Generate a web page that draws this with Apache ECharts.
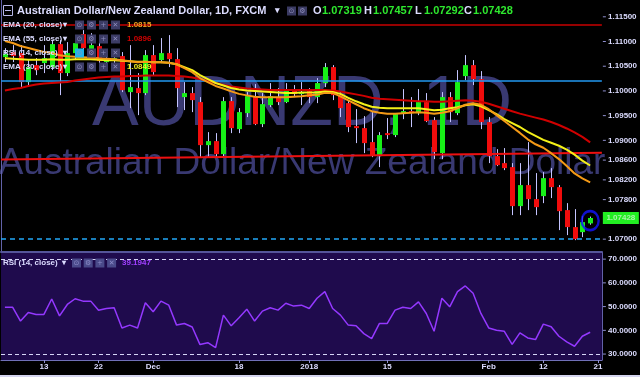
<!DOCTYPE html>
<html><head><meta charset="utf-8">
<script src="https://cdn.jsdelivr.net/npm/echarts@6/dist/echarts.min.js"></script>
<style>html,body{margin:0;padding:0;background:#000;overflow:hidden}#c{width:640px;height:377px}</style>
</head><body><div id="c"></div>
<script>
const dates = ['2017-11-06','2017-11-07','2017-11-08','2017-11-09','2017-11-10','2017-11-13','2017-11-14','2017-11-15','2017-11-16','2017-11-17','2017-11-20','2017-11-21','2017-11-22','2017-11-23','2017-11-24','2017-11-27','2017-11-28','2017-11-29','2017-11-30','2017-12-01','2017-12-04','2017-12-05','2017-12-06','2017-12-07','2017-12-08','2017-12-11','2017-12-12','2017-12-13','2017-12-14','2017-12-15','2017-12-18','2017-12-19','2017-12-20','2017-12-21','2017-12-22','2017-12-26','2017-12-27','2017-12-28','2017-12-29','2018-01-01','2018-01-02','2018-01-03','2018-01-04','2018-01-05','2018-01-08','2018-01-09','2018-01-10','2018-01-11','2018-01-12','2018-01-15','2018-01-16','2018-01-17','2018-01-18','2018-01-19','2018-01-22','2018-01-23','2018-01-24','2018-01-25','2018-01-26','2018-01-29','2018-01-30','2018-01-31','2018-02-01','2018-02-02','2018-02-05','2018-02-06','2018-02-07','2018-02-08','2018-02-09','2018-02-12','2018-02-13','2018-02-14','2018-02-15','2018-02-16','2018-02-19','2018-02-20','2018-02-21'];

const opens = [1.10684,1.10786,1.10765,1.10178,1.10522,1.10563,1.10482,1.10947,1.10361,1.10765,1.11150,1.10846,1.10907,1.10583,1.10624,1.10705,1.09976,1.10057,1.09956,1.10725,1.10624,1.10765,1.10644,1.09875,1.09956,1.09774,1.08903,1.08984,1.08721,1.09794,1.09227,1.09551,1.09895,1.09328,1.09713,1.09875,1.09774,1.10037,1.09935,1.09996,1.09875,1.10158,1.10482,1.09915,1.09753,1.09288,1.09247,1.08964,1.08681,1.09146,1.09106,1.09551,1.09591,1.09551,1.09774,1.09409,1.08741,1.09875,1.09551,1.10300,1.10522,1.10239,1.09369,1.08681,1.08539,1.08458,1.07669,1.08094,1.07810,1.07871,1.08235,1.08053,1.07588,1.07244,1.07142,1.07319];
const highs = [1.10866,1.10927,1.10927,1.10624,1.10664,1.10927,1.11028,1.11028,1.10988,1.11069,1.11231,1.11170,1.11069,1.10826,1.10826,1.10786,1.10927,1.10361,1.10826,1.10927,1.11069,1.11130,1.10866,1.10178,1.10077,1.09875,1.09166,1.09146,1.09875,1.09875,1.09652,1.09976,1.10138,1.09956,1.10158,1.10057,1.10158,1.10118,1.10178,1.10057,1.10259,1.10563,1.10522,1.09976,1.09814,1.09632,1.09490,1.09571,1.09166,1.09450,1.09551,1.10037,1.09875,1.10037,1.09956,1.09470,1.09976,1.09976,1.10421,1.10725,1.10624,1.10401,1.09470,1.08822,1.08843,1.08539,1.08539,1.08964,1.08337,1.08357,1.08438,1.08094,1.07729,1.07608,1.07466,1.07457];
const lows = [1.10583,1.10583,1.10057,1.10118,1.10320,1.10361,1.10421,1.09915,1.10300,1.10624,1.10725,1.10684,1.10502,1.10502,1.10543,1.09976,1.09652,1.09510,1.09915,1.10320,1.10563,1.10482,1.09672,1.09612,1.09571,1.08660,1.08660,1.08660,1.08660,1.09146,1.09146,1.09470,1.09308,1.09268,1.09672,1.09713,1.09753,1.09875,1.09713,1.09753,1.09753,1.10077,1.09814,1.09470,1.09166,1.08944,1.08741,1.08660,1.08458,1.09025,1.09065,1.09429,1.09268,1.09510,1.09369,1.08620,1.08620,1.09369,1.09510,1.10219,1.10118,1.09227,1.08539,1.08478,1.08397,1.07486,1.07486,1.07588,1.07486,1.07729,1.07831,1.07183,1.07082,1.06980,1.07041,1.07292];
const closes = [1.10745,1.10705,1.10178,1.10482,1.10421,1.10664,1.10947,1.10361,1.10765,1.10968,1.10866,1.10927,1.10603,1.10644,1.10664,1.10016,1.10077,1.09956,1.10725,1.10381,1.10765,1.10644,1.10057,1.09956,1.09814,1.08903,1.08984,1.08721,1.09794,1.09247,1.09571,1.09895,1.09328,1.09733,1.09895,1.09774,1.10037,1.09935,1.09976,1.09875,1.10158,1.10482,1.09915,1.09652,1.09268,1.09247,1.08944,1.08701,1.09106,1.09106,1.09531,1.09591,1.09551,1.09774,1.09389,1.08762,1.09875,1.09571,1.10178,1.10522,1.10239,1.09369,1.08681,1.08498,1.08438,1.07669,1.08094,1.07810,1.07648,1.08235,1.08053,1.07567,1.07244,1.07001,1.07345,1.07428];

const ema20 = [1.1101,1.1097,1.1091,1.1087,1.1083,1.1079,1.1077,1.1072,1.1070,1.1069,1.1068,1.1067,1.1066,1.1065,1.1064,1.1062,1.1060,1.1058,1.1059,1.1058,1.1058,1.1057,1.1054,1.1046,1.1038,1.1026,1.1018,1.1010,1.1005,1.0999,1.0994,1.0991,1.0988,1.0987,1.0987,1.0987,1.0987,1.0988,1.0989,1.0991,1.0992,1.0996,1.0996,1.0989,1.0981,1.0973,1.0965,1.0959,1.0956,1.0954,1.0954,1.0955,1.0956,1.0957,1.0956,1.0954,1.0956,1.0959,1.0965,1.0972,1.0975,1.0972,1.0963,1.0951,1.0939,1.0927,1.0915,1.0902,1.0892,1.0885,1.0874,1.0862,1.0848,1.0833,1.0823,1.0815];
const ema30 = [1.1066,1.1065,1.1064,1.1063,1.1063,1.1063,1.1064,1.1063,1.1063,1.1064,1.1064,1.1064,1.1063,1.1062,1.1062,1.1061,1.1060,1.1059,1.1059,1.1058,1.1058,1.1057,1.1054,1.1048,1.1042,1.1032,1.1024,1.1016,1.1011,1.1006,1.1003,1.1001,1.1000,1.0999,1.0998,1.0997,1.0996,1.0996,1.0997,1.0997,1.0997,1.0999,1.0998,1.0994,1.0986,1.0979,1.0973,1.0968,1.0966,1.0965,1.0965,1.0965,1.0965,1.0965,1.0963,1.0961,1.0962,1.0965,1.0967,1.0971,1.0973,1.0969,1.0961,1.0953,1.0943,1.0935,1.0927,1.0917,1.0909,1.0901,1.0895,1.0889,1.0881,1.0871,1.0859,1.0849];
const ema55 = [1.1001,1.1004,1.1006,1.1010,1.1013,1.1015,1.1016,1.1017,1.1018,1.1021,1.1023,1.1025,1.1027,1.1028,1.1029,1.1029,1.1030,1.1030,1.1031,1.1031,1.1031,1.1031,1.1030,1.1029,1.1027,1.1024,1.1020,1.1016,1.1012,1.1009,1.1007,1.1005,1.1004,1.1003,1.1002,1.1002,1.1002,1.1002,1.1002,1.1002,1.1002,1.1002,1.1001,1.0999,1.0996,1.0993,1.0990,1.0986,1.0984,1.0983,1.0982,1.0981,1.0980,1.0979,1.0979,1.0978,1.0978,1.0979,1.0980,1.0981,1.0980,1.0978,1.0974,1.0969,1.0964,1.0959,1.0954,1.0950,1.0946,1.0942,1.0937,1.0931,1.0924,1.0916,1.0907,1.0896];
const rsi = [49.7,49.7,43.9,47.5,46.7,46.7,53.2,46.1,50.9,53.3,52.3,52.3,48.5,49.2,49.5,41.0,42.2,41.0,51.6,47.8,52.3,50.6,42.2,42.9,41.4,34.0,34.8,32.7,46.4,41.9,45.3,48.9,43.9,48.1,49.5,48.5,51.4,50.2,50.6,49.2,53.5,56.3,49.2,46.4,42.2,41.9,38.6,36.5,42.9,42.9,48.5,49.7,49.2,52.0,47.1,39.6,53.5,49.9,56.3,58.7,55.6,47.1,41.0,40.0,39.6,34.1,38.9,36.8,36.1,42.6,41.5,37.5,35.1,33.3,37.5,39.1947];

const priceTicks = [1.115,1.110,1.105,1.100,1.095,1.090,1.086,1.082,1.078,1.070];
const rsiTicks = [30,40,50,60,70];
const dateTicks = ['2017-11-13','2017-11-22','2017-12-01','2017-12-18','2018-01-01','2018-01-15','2018-02-01','2018-02-12','2018-02-21'];
const dateTickText = ['13','22','Dec','18','2018','15','Feb','12','21'];
const levelTop = 1.1133, levelBlue = 1.1020, levelDash = 1.0700;
const trendLine = [1.0861, 1.0875];

const F = '"Liberation Sans", Arial, sans-serif';
const TXT = '#dcdcff';
const GREEN = '#17f017', RED = '#f00c0c', WICK = '#c4c4ff';

const candleData = closes.map((c, i) => [i, opens[i], c, lows[i], highs[i]]);
const last = closes.length - 1;

function txt(x, y, s, size, color, extra) {
  return Object.assign({type: 'text', x: x, y: y, z: 50, silent: true,
    style: {text: s, font: 'bold ' + size + 'px ' + F, fill: color, align: 'left', verticalAlign: 'middle'}}, extra || {});
}
function icon(x, y, glyph, bg, fg) {
  return [
    {type: 'rect', z: 50, silent: true, shape: {x: x, y: y - 4.5, width: 9, height: 9}, style: {fill: bg}},
    {type: 'text', z: 51, silent: true, x: x + 4.5, y: y, style: {text: glyph, font: '7px "DejaVu Sans", sans-serif', fill: fg, align: 'center', verticalAlign: 'middle'}}
  ];
}
const glyphs = ['\u2299', '\u2699', '+', '\u2715'];
const els = [];
els.push({type: 'text', x: 302, y: 106, z: -1, silent: true, style: {text: 'AUDNZD, 1D', font: '70px ' + F, fill: '#393972', align: 'center', verticalAlign: 'middle'}});
els.push({type: 'text', x: 302, y: 163.5, z: -1, silent: true, style: {text: 'Australian Dollar/New Zealand Dollar', font: '37px ' + F, fill: '#393972', align: 'center', verticalAlign: 'middle'}});
els.push({type: 'rect', z: 50, silent: true, shape: {x: 3.5, y: 5.5, width: 9, height: 10}, style: {fill: 'none', stroke: '#b8b8e8', lineWidth: 1}});
els.push({type: 'line', z: 50, silent: true, shape: {x1: 5, y1: 10.5, x2: 11, y2: 10.5}, style: {stroke: '#b8b8e8', lineWidth: 1}});
els.push(txt(17, 11, 'Australian Dollar/New Zealand Dollar, 1D, FXCM', 11, TXT));
els.push(txt(275, 11, '\u25BE', 9, TXT));
els.push(...icon(287, 11, glyphs[0], '#3a3a62', '#8a8ab8'));
els.push(...icon(298, 11, glyphs[1], '#3a3a62', '#8a8ab8'));
const ohlc = [['O', 313, opens[last]], ['H', 364, highs[last]], ['L', 415, lows[last]], ['C', 464, closes[last]]];
ohlc.forEach(([k, x, v]) => { els.push(txt(x, 11, k, 11, TXT)); els.push(txt(x + 9, 11, v.toFixed(5), 11, '#2ee82e')); });
const rows = [
  ['EMA (20, close)', 25, ema20[last].toFixed(4), '#f5a020'],
  ['EMA (55, close)', 39, ema55[last].toFixed(4), '#d00000'],
  ['RSI (14, close)', 53, null, null],
  ['EMA (30, close)', 67, ema30[last].toFixed(4), '#f0f020']
];
rows.forEach(([name, y, val, col], r) => {
  els.push(txt(3, y, name, 8, TXT));
  els.push(txt(63, y, '\u25BE', 8, TXT));
  glyphs.forEach((g, k) => els.push(...icon(75 + 12 * k, y, g, (r === 2 && k === 0) ? '#1eb4ec' : '#3c3c66', '#8c8cbc')));
  if (val) els.push(txt(127, y, val, 8, col));
});
els.push(txt(3, 263, 'RSI (14, close)', 8, TXT));
els.push(txt(62, 263, '\u25BE', 8, TXT));
glyphs.forEach((g, k) => els.push(...icon(72 + 11.7 * k, 263, g, '#4a4a8a', '#8c8cc8')));
els.push(txt(122, 263, rsi[last].toFixed(4), 8, '#a040ff'));
els.push({type: 'rect', z: 50, silent: true, shape: {x: 0, y: 375, width: 640, height: 2}, style: {fill: '#d4d4ee'}});

const chart = echarts.init(document.getElementById('c'), null, {renderer: 'canvas'});
chart.setOption({
  animation: false,
  backgroundColor: '#000',
  grid: [
    {left: 1, right: 36, top: 0, height: 252},
    {left: 1, right: 36, top: 252, height: 108, show: true, backgroundColor: '#1f0b4d', borderWidth: 0}
  ],
  xAxis: [
    {gridIndex: 0, type: 'category', data: dates, boundaryGap: true,
      axisLine: {show: true, lineStyle: {color: '#55559a', width: 2}}, axisTick: {show: false}, axisLabel: {show: false}, splitLine: {show: false}},
    {gridIndex: 1, type: 'category', data: dates, boundaryGap: true,
      axisLine: {show: true, lineStyle: {color: '#7070b8', width: 1}},
      axisTick: {show: true, alignWithLabel: true, length: 3, interval: (i, v) => dateTicks.includes(v), lineStyle: {color: '#9090d0'}},
      axisLabel: {interval: (i, v) => dateTicks.includes(v), formatter: v => dateTickText[dateTicks.indexOf(v)], color: TXT, fontSize: 8, fontWeight: 'bold', fontFamily: F, margin: 3},
      splitLine: {show: false}},
    {gridIndex: 0, type: 'value', min: 0, max: 1, show: false}
  ],
  yAxis: [
    {gridIndex: 0, type: 'value', position: 'right', min: 1.0674, max: 1.1184, interval: 0.0002,
      axisLine: {show: true, lineStyle: {color: '#6262a8', width: 1}}, axisTick: {show: false}, splitLine: {show: false},
      axisLabel: {margin: 1, color: TXT, fontSize: 8, fontWeight: 'bold', fontFamily: F,
        formatter: v => priceTicks.some(t => Math.abs(t - v) < 1e-6) ? '{tk|} ' + v.toFixed(5) : '',
        rich: {tk: {width: 3, height: 1, backgroundColor: '#9090d0'}}}},
    {gridIndex: 1, type: 'value', position: 'right', min: 27.5, max: 73, interval: 0.5,
      axisLine: {show: true, lineStyle: {color: '#6262a8', width: 1}}, axisTick: {show: false}, splitLine: {show: false},
      axisLabel: {margin: 1, color: TXT, fontSize: 8, fontWeight: 'bold', fontFamily: F,
        formatter: v => rsiTicks.some(t => Math.abs(t - v) < 1e-6) ? '{tk|} ' + v.toFixed(4) : '',
        rich: {tk: {width: 3, height: 1, backgroundColor: '#9090d0'}}}}
  ],
  graphic: {elements: els},
  series: [
    {type: 'custom', name: 'AUDNZD', xAxisIndex: 0, yAxisIndex: 0, z: 3,
      dimensions: ['i', 'open', 'close', 'low', 'high'], encode: {x: 0, y: [1, 2, 3, 4]},
      data: candleData,
      renderItem: function (params, api) {
        const i = api.value(0), o = api.value(1), c = api.value(2), l = api.value(3), h = api.value(4);
        const pO = api.coord([i, o]), pC = api.coord([i, c]), pL = api.coord([i, l]), pH = api.coord([i, h]);
        const cx = Math.round(pO[0]);
        const top = Math.min(pO[1], pC[1]), bot = Math.max(pO[1], pC[1]);
        return {type: 'group', children: [
          {type: 'line', shape: {x1: cx + 0.5, y1: pH[1], x2: cx + 0.5, y2: pL[1]}, style: {stroke: WICK, lineWidth: 1}},
          {type: 'rect', shape: {x: cx - 2, y: top, width: 5, height: Math.max(bot - top, 1.5)}, style: {fill: c >= o ? GREEN : RED}}
        ]};
      }},
    {type: 'lines', coordinateSystem: 'cartesian2d', xAxisIndex: 2, yAxisIndex: 0, z: 4, silent: true,
      data: [
        {coords: [[0, levelTop], [1, levelTop]], lineStyle: {color: '#c80000', width: 1.5, opacity: 1}},
        {coords: [[0, levelBlue], [1, levelBlue]], lineStyle: {color: '#2298f0', width: 1.5, opacity: 1}},
        {coords: [[0, trendLine[0]], [1, trendLine[1]]], lineStyle: {color: '#ee1010', width: 2, opacity: 1}},
        {coords: [[0, levelDash], [1, levelDash]], lineStyle: {color: '#22a8f8', width: 1.5, type: [5, 4], opacity: 1}}
      ]},
    {type: 'line', name: 'EMA55', xAxisIndex: 0, yAxisIndex: 0, data: ema55, symbol: 'none', z: 5, lineStyle: {color: '#d00000', width: 2}},
    {type: 'line', name: 'EMA30', xAxisIndex: 0, yAxisIndex: 0, data: ema30, symbol: 'none', z: 5, lineStyle: {color: '#f4f018', width: 2}},
    {type: 'line', name: 'EMA20', xAxisIndex: 0, yAxisIndex: 0, data: ema20, symbol: 'none', z: 5, lineStyle: {color: '#f59a16', width: 2}},
    {type: 'scatter', xAxisIndex: 0, yAxisIndex: 0, z: 6, silent: true, clip: false,
      data: [[dates[last], (highs[last] + lows[last]) / 2]],
      symbol: 'circle', symbolSize: [17, 19],
      itemStyle: {color: 'rgba(0,0,0,0)', borderColor: '#1414ff', borderWidth: 2.5}},
    {type: 'custom', name: 'lastPrice', xAxisIndex: 0, yAxisIndex: 0, z: 8, silent: true, clip: false,
      data: [[last, closes[last]]], encode: {x: 0, y: 1},
      renderItem: function (params, api) {
        const p = api.coord([api.value(0), api.value(1)]);
        const cs = params.coordSys;
        return {type: 'group', children: [
          {type: 'rect', shape: {x: cs.x + cs.width + 1, y: Math.round(p[1]) - 6, width: 36, height: 12}, style: {fill: '#22ee22'}},
          {type: 'text', x: cs.x + cs.width + 19, y: Math.round(p[1]), style: {text: api.value(1).toFixed(5), font: 'bold 8px ' + F, fill: '#a8f4a8', align: 'center', verticalAlign: 'middle'}}
        ]};
      }},
    {type: 'line', name: 'RSI', xAxisIndex: 1, yAxisIndex: 1, data: rsi, symbol: 'none', z: 5,
      lineStyle: {color: '#9438ff', width: 1.5},
      markLine: {symbol: 'none', silent: true, animation: false, label: {show: false},
        lineStyle: {color: '#d6d6f6', type: [4, 3], width: 1}, data: [{yAxis: 70}, {yAxis: 30}]}}
  ]
});
</script></body></html>
